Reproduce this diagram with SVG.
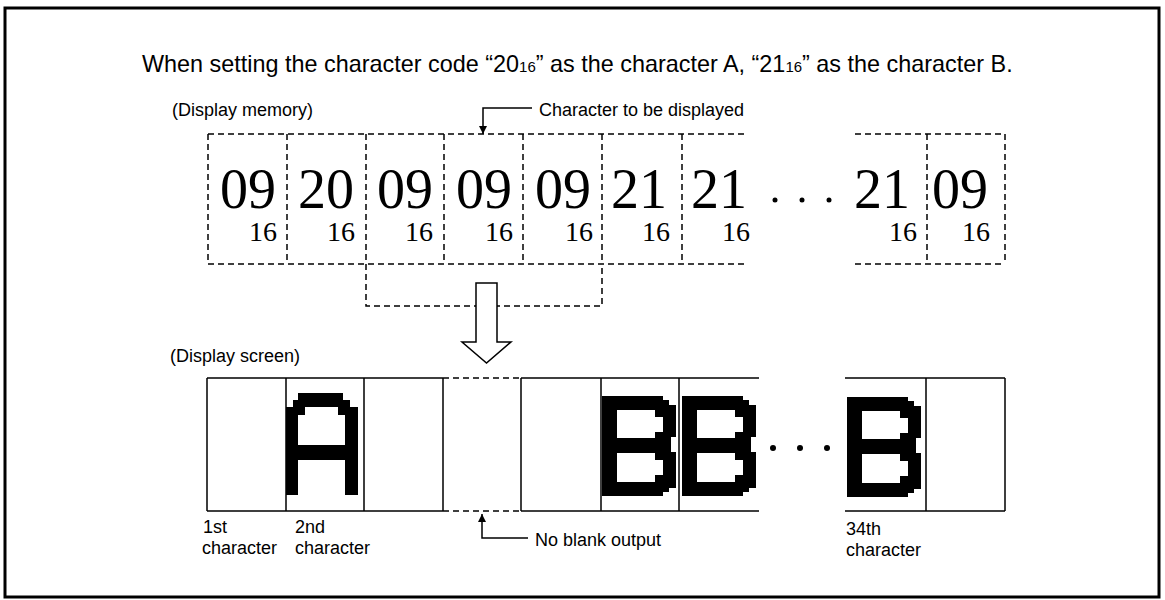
<svg xmlns="http://www.w3.org/2000/svg" width="1165" height="600" viewBox="0 0 1165 600">
<style>
.sans{font-family:"Liberation Sans",Arial,sans-serif;fill:#000}
.lbl{font-size:18px}
.big{font-family:"Liberation Serif","Times New Roman",serif;font-size:56px;text-anchor:middle;fill:#000}
.sub{font-family:"Liberation Serif","Times New Roman",serif;font-size:28px;text-anchor:end;fill:#000}
.dash{stroke:#000;stroke-width:1.5;stroke-dasharray:6 4;fill:none}
.solid{stroke:#000;stroke-width:1.5;fill:none}
.px{fill:#000;fill-rule:evenodd}
</style>
<defs>
<path id="glyphB" class="px" d="M0,0 H61 V4 H67 V9 H74 V41 H69 V56 H74 V92 H67 V96 H61 V100 H0 Z M15,14 H53 V21 H61 V36 H53 V42 H15 Z M15,57 H53 V64 H61 V79 H53 V86 H15 Z"/>
<marker id="ah" viewBox="0 0 10 10" refX="10" refY="5" markerWidth="8" markerHeight="8" markerUnits="userSpaceOnUse" orient="auto">
<path d="M0,0 L10,5 L0,10 Z" fill="#000"/>
</marker>
</defs>
<rect x="5" y="8" width="1154" height="589" fill="#fff" stroke="#000" stroke-width="3"/>

<g id="title">
<text class="sans" x="142" y="72" font-size="23.4">When setting the character code “20<tspan font-size="15">16</tspan>” as the character A, “21<tspan font-size="15">16</tspan>” as the character B.</text>
</g>

<g id="display-memory">
<text class="sans lbl" x="172" y="116">(Display memory)</text>
<g id="mem-frame">
<path class="dash" d="M208,134 H747 M208,264 H747 M208,134 V264 M287,134 V264 M366,134 V264 M444,134 V264 M523,134 V264 M602,134 V264 M682,134 V264"/>
<path class="dash" d="M855,134 H1005 M855,264 H1005 M927,134 V264 M1005,134 V264"/>
<path class="dash" d="M366,264 V306 H602 V264"/>
</g>
<g id="mem1"><text class="big" x="248" y="208">09</text><text class="sub" x="277" y="241">16</text></g>
<g id="mem2"><text class="big" x="326" y="208">20</text><text class="sub" x="355" y="241">16</text></g>
<g id="mem3"><text class="big" x="405" y="208">09</text><text class="sub" x="433" y="241">16</text></g>
<g id="mem4"><text class="big" x="484" y="208">09</text><text class="sub" x="513" y="241">16</text></g>
<g id="mem5"><text class="big" x="563" y="208">09</text><text class="sub" x="593" y="241">16</text></g>
<g id="mem6"><text class="big" x="639" y="208">21</text><text class="sub" x="670" y="241">16</text></g>
<g id="mem7"><text class="big" x="719" y="208">21</text><text class="sub" x="750" y="241">16</text></g>
<g id="mem-dots"><circle cx="775" cy="200" r="2.5"/><circle cx="802" cy="200" r="2.5"/><circle cx="829" cy="200" r="2.5"/></g>
<g id="mem33"><text class="big" x="882" y="208">21</text><text class="sub" x="917" y="241">16</text></g>
<g id="mem34"><text class="big" x="960" y="208">09</text><text class="sub" x="990" y="241">16</text></g>
</g>

<g id="transfer-arrow">
<path d="M476,283 H497 V342 H511 L486.5,363 L462,342 H476 Z" fill="#fff" stroke="#000" stroke-width="1.5" stroke-linejoin="miter"/>
</g>

<g id="display-screen">
<text class="sans lbl" x="170" y="362">(Display screen)</text>
<path class="solid" d="M207,378 H443 M521,378 H759 M207,511 H443 M521,511 H759 M207,378 V511 M286,378 V511 M364,378 V511 M443,378 V511 M521,378 V511 M601,378 V511 M679,378 V511"/>
<path class="dash" d="M443,378 H521 M443,511 H521"/>
<path class="solid" d="M845,378 H1005 M845,511 H1005 M926,378 V511 M1005,378 V511"/>
<g id="cell2-A">
<path class="px" d="M286,407 H293 V400 H298 V393 H343 V400 H350 V407 H358 V495 H345 V460 H298 V495 H286 Z M305,407 H338 V415 H345 V445 H298 V415 H305 Z"/>
</g>
<g id="cell6-B"><use href="#glyphB" transform="translate(602,396)"/></g>
<g id="cell7-B"><use href="#glyphB" transform="translate(682,396)"/></g>
<g id="screen-dots"><circle cx="773" cy="448" r="3"/><circle cx="800" cy="448" r="3"/><circle cx="827" cy="448" r="3"/></g>
<g id="cell33-B"><use href="#glyphB" transform="translate(847,397)"/></g>
</g>

<g id="labels">
<text class="sans lbl" x="203" y="533">1st</text>
<text class="sans lbl" x="202" y="554">character</text>
<text class="sans lbl" x="295" y="533">2nd</text>
<text class="sans lbl" x="295" y="554">character</text>
<text class="sans lbl" x="846" y="535">34th</text>
<text class="sans lbl" x="846" y="556">character</text>
<text class="sans lbl" x="539" y="116">Character to be displayed</text>
<text class="sans lbl" x="535" y="546">No blank output</text>
</g>

<g id="connectors">
<path class="solid" d="M532,108 H483 V134" marker-end="url(#ah)"/>
<path class="solid" d="M528,538 H482 V514" marker-end="url(#ah)"/>
</g>
</svg>
